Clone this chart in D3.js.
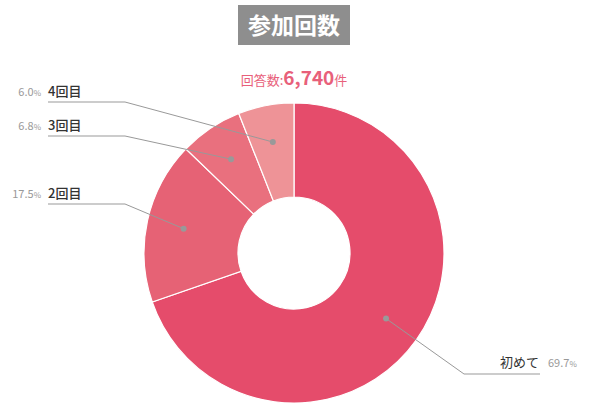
<!DOCTYPE html>
<html>
<head>
<meta charset="utf-8">
<script src="https://cdn.jsdelivr.net/npm/d3@7"></script>
<style>
  body { margin: 0; background: #fff; }
  svg { display: block; font-family: "Noto Sans CJK JP", "Noto Sans", sans-serif; }
</style>
</head>
<body>
<svg id="chart" width="589" height="403"></svg>
<script>
var labels = ['初めて', '2回目', '3回目', '4回目'];
var values = [69.7, 17.5, 6.8, 6.0];
var colors = ['#E54C6B', '#E66275', '#E9707E', '#EE9397'];
var title = '参加回数';
var total = '6,740';

// label layout (y of the underline for each slice)
var lineY = [374, 204, 136, 102];

var svg = d3.select('#chart');
var cx = 294, cy = 253, outerR = 150, innerR = 56;

// title box
svg.append('rect')
    .attr('x', 238).attr('y', 5)
    .attr('width', 112).attr('height', 40)
    .attr('fill', '#8E8E8E');
svg.append('text')
    .attr('x', 294).attr('y', 34)
    .attr('text-anchor', 'middle')
    .attr('fill', '#fff')
    .attr('font-size', 23)
    .attr('font-weight', 'bold')
    .text(title);

var cnt = svg.append('text')
    .attr('x', 294).attr('y', 85)
    .attr('text-anchor', 'middle')
    .attr('fill', '#E8607A');
cnt.append('tspan').attr('font-size', 13).text('回答数:');
cnt.append('tspan').attr('font-size', 19).attr('font-weight', 'bold').text(total);
cnt.append('tspan').attr('font-size', 13).text('件');

var pie = d3.pie().sort(null).value(d => d);
var arcs = pie(values);
var arc = d3.arc().innerRadius(innerR).outerRadius(outerR);
var dotArc = d3.arc().innerRadius(113).outerRadius(113);

var g = svg.append('g').attr('transform', 'translate(' + cx + ',' + cy + ')');
g.selectAll('path')
    .data(arcs)
    .enter().append('path')
    .attr('d', arc)
    .attr('fill', (d, i) => colors[i])
    .attr('stroke', '#fff')
    .attr('stroke-width', 1.2);

arcs.forEach((d, i) => {
    var c = dotArc.centroid(d);
    var px = cx + c[0], py = cy + c[1];
    var right = i == 0;
    var elbowX = right ? 464 : 125;
    var endX = right ? 540 : 48;
    var ly = lineY[i];

    svg.append('polyline')
        .attr('points', [[px, py], [elbowX, ly], [endX, ly]].map(p => p.join(',')).join(' '))
        .attr('fill', 'none')
        .attr('stroke', '#999')
        .attr('stroke-width', 1);
    svg.append('circle')
        .attr('cx', px).attr('cy', py).attr('r', 3)
        .attr('fill', '#999');

    var pct = values[i].toFixed(1);
    if (right) {
        svg.append('text')
            .attr('x', 539).attr('y', ly - 7)
            .attr('text-anchor', 'end')
            .attr('fill', '#333')
            .attr('font-size', 13)
            .text(labels[i]);
        var t = svg.append('text')
            .attr('x', 548).attr('y', ly - 7)
            .attr('fill', '#999')
            .attr('font-size', 11);
        t.append('tspan').text(pct);
        t.append('tspan').attr('font-size', 8).text('%');
    } else {
        svg.append('text')
            .attr('x', 48).attr('y', ly - 6)
            .attr('fill', '#333')
            .attr('font-size', 13)
            .attr('font-weight', 500)
            .text(labels[i]);
        var t = svg.append('text')
            .attr('x', 41).attr('y', ly - 6)
            .attr('text-anchor', 'end')
            .attr('fill', '#999')
            .attr('font-size', 11);
        t.append('tspan').text(pct);
        t.append('tspan').attr('font-size', 8).text('%');
    }
});
</script>
</body>
</html>
